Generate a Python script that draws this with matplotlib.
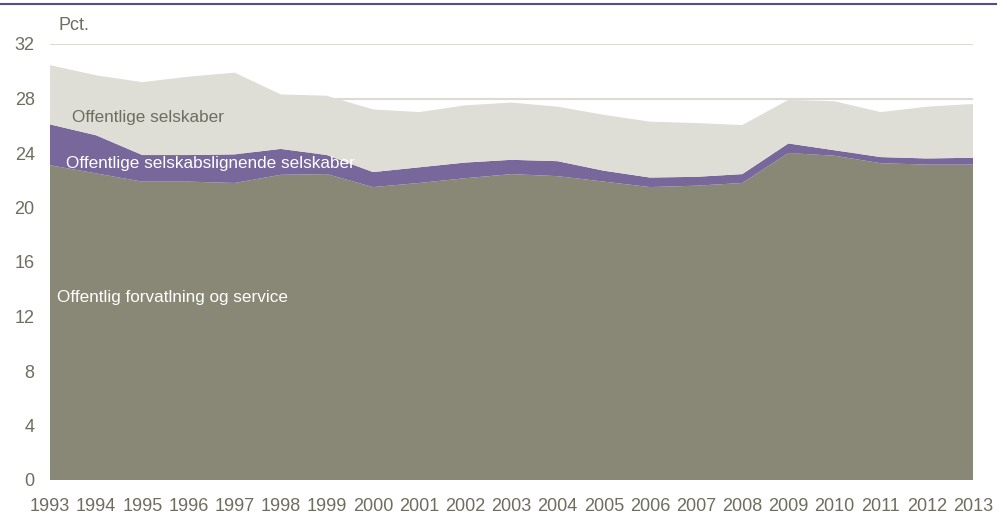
import matplotlib
matplotlib.use("Agg")
import matplotlib.pyplot as plt
from matplotlib import font_manager

years = list(range(1993, 2014))
forvaltning = [23.1, 22.5, 21.9, 21.9, 21.8, 22.4, 22.45, 21.5, 21.8, 22.15, 22.45,
               22.3, 21.9, 21.5, 21.6, 21.8, 24.0, 23.8, 23.25, 23.15, 23.15]
lignende_top = [26.1, 25.3, 23.85, 23.85, 23.9, 24.3, 23.85, 22.6, 22.95, 23.3, 23.5,
                23.4, 22.7, 22.2, 22.25, 22.45, 24.7, 24.2, 23.7, 23.6, 23.65]
total_top = [30.45, 29.7, 29.2, 29.6, 29.9, 28.3, 28.2, 27.2, 27.0, 27.5, 27.7,
             27.4, 26.8, 26.3, 26.2, 26.05, 27.9, 27.8, 27.0, 27.4, 27.6]
lignende = [b - a for a, b in zip(forvaltning, lignende_top)]
selskaber = [c - b for b, c in zip(lignende_top, total_top)]
yticks = [0, 4, 8, 12, 16, 20, 24, 28, 32]

names = {f.name for f in font_manager.fontManager.ttflist}
fam = "Liberation Sans Narrow" if "Liberation Sans Narrow" in names else "Liberation Sans"
plt.rcParams['font.family'] = [fam, 'DejaVu Sans']

txt = "#6f6d5f"
c_dark = "#898776"
c_purple = "#77679b"
c_light = "#deddd6"
c_grid = "#dcdbd3"

fig = plt.figure(figsize=(10.07, 5.16), dpi=100)
ax = fig.add_axes([50/1007, 1-480/516, 923/1007, (480-44)/516])
ax.stackplot(years, forvaltning, lignende, selskaber,
             colors=[c_dark, c_purple, c_light], linewidth=0, zorder=2)
ax.set_xlim(1993, 2013)
ax.set_ylim(0, 32)
ax.set_yticks(yticks)
ax.set_xticks(years)
ax.set_xticklabels([str(y) for y in years])
ax.grid(axis='y', color=c_grid, linewidth=1.5, zorder=1)
ax.set_axisbelow(True)
for s in ax.spines.values():
    s.set_visible(False)
ax.tick_params(length=0, colors=txt, labelsize=13)
ax.tick_params(axis='y', pad=11)
ax.tick_params(axis='x', pad=13)

fig.text(59/1007, 1-25/516, "Pct.", color=txt, fontsize=13, va='center', ha='left')
ax.text(1993.47, 26.6, "Offentlige selskaber", color=txt, fontsize=12.3, va='center')
ax.text(1993.35, 23.25, "Offentlige selskabslignende selskaber", color='white', fontsize=12.3, va='center')
ax.text(1993.15, 13.4, "Offentlig forvatlning og service", color='white', fontsize=12.3, va='center')

fig.add_artist(plt.Line2D([0, 996/1007], [1-4/516, 1-4/516], color="#5b4a8a", linewidth=1.5))

fig.savefig("out.png", dpi=100)
